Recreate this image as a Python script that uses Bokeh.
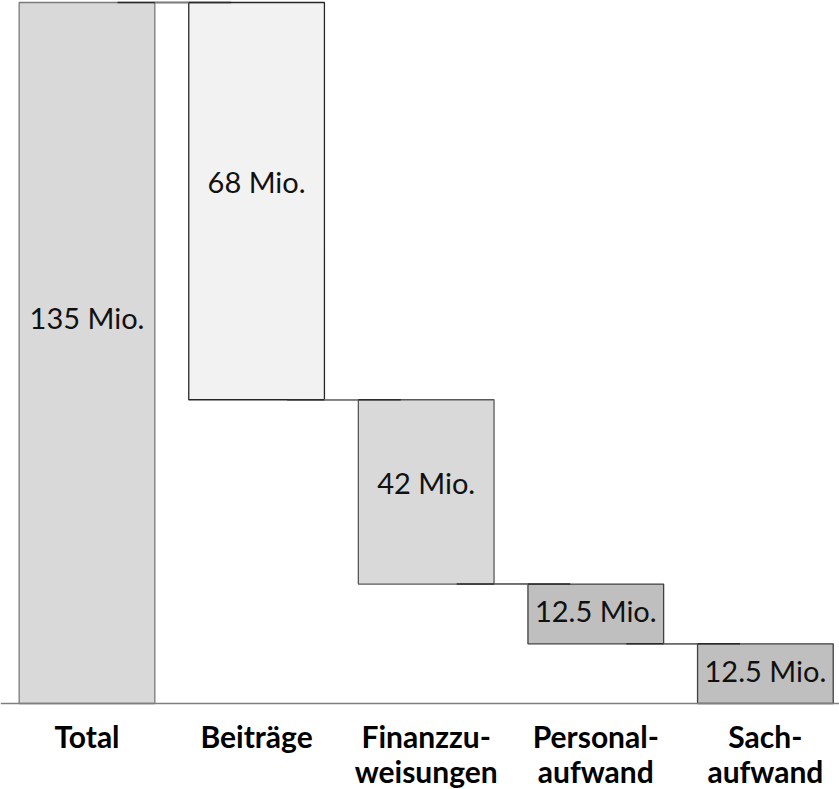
from bokeh.plotting import figure
from bokeh.models import Range1d, Span, ColumnDataSource
from bokeh.core.properties import value
from bokeh.embed import file_html
from bokeh.resources import INLINE

# ---- data ----
categories = ["Total", "Beiträge", "Finanzzu-\nweisungen", "Personal-\naufwand", "Sach-\naufwand"]
values = [135, 76.5, 35.5, 11.5, 11.5]          # drawn bar heights
value_labels = ["135 Mio.", "68 Mio.", "42 Mio.", "12.5 Mio.", "12.5 Mio."]
fill_colors = ["#d9d9d9", "#f2f2f2", "#d9d9d9", "#bfbfbf", "#bfbfbf"]
line_colors = ["#7a7a7a", "#262626", "#595959", "#404040", "#404040"]

# ---- waterfall geometry ----
n = len(categories)
xs = list(range(n))
tops, bottoms = [], []
level = values[0]
for i, v in enumerate(values):
    if i == 0:
        tops.append(v)
        bottoms.append(0)
    else:
        tops.append(level)
        bottoms.append(level - v)
        level = level - v

label_frac = 0.45
label_y = [t - label_frac * (t - b) for t, b in zip(tops, bottoms)]

W, H = 839, 789
axis_px = 703          # axis position (px from top)
top_px = 2             # where the total's top sits
s = (axis_px - top_px) / values[0]
y_top = axis_px / s
y_bot = -(H - axis_px) / s

bw = 0.8
x_start, x_end = -0.510, 4.437

p = figure(width=W, height=H, output_backend="svg", toolbar_location=None,
           x_range=Range1d(x_start, x_end), y_range=Range1d(y_bot, y_top),
           x_axis_type=None, y_axis_type=None, min_border=0,
           outline_line_color=None, background_fill_color="white",
           border_fill_color="white")

src = ColumnDataSource(dict(x=xs, top=tops, bottom=bottoms, fill=fill_colors,
                            line=line_colors, ly=label_y, lab=value_labels))

# connectors (dark marks inside bars + gray in gaps)
cx0, cx1, cy, gx0, gx1 = [], [], [], [], []
for i in range(n - 1):
    lvl = tops[i + 1]
    cx0.append(xs[i] + bw / 2 - 0.22)
    cx1.append(xs[i + 1] - bw / 2 + 0.25)
    gx0.append(xs[i] + bw / 2)
    gx1.append(xs[i + 1] - bw / 2)
    cy.append(lvl)

p.vbar(x="x", width=bw, top="top", bottom="bottom", fill_color="fill",
       line_color="line", line_width=1.3, source=src)

p.segment(x0=cx0, y0=cy, x1=cx1, y1=cy, line_color="#2b2b2b", line_width=1.5)
p.segment(x0=gx0, y0=cy, x1=gx1, y1=cy, line_color="#7f7f7f", line_width=1.3)

p.add_layout(Span(location=0, dimension="width", line_color="#7f7f7f", line_width=1.5))

p.text(x="x", y="ly", text="lab", source=src, text_font=value("Lato"),
       text_font_size="29px", text_align="center", text_baseline="middle",
       text_color="#111111")

line1 = [c.split("\n")[0] for c in categories]
line2 = [c.split("\n")[1] if "\n" in c else "" for c in categories]
y1 = -(735 - axis_px) / s
y2 = -(770 - axis_px) / s
p.text(x=xs, y=[y1] * n, text=line1, text_font=value("Lato"), text_font_style="bold",
       text_font_size="30px", text_align="center", text_baseline="alphabetic",
       text_color="#000000")
p.text(x=xs, y=[y2] * n, text=line2, text_font=value("Lato"), text_font_style="bold",
       text_font_size="30px", text_align="center", text_baseline="alphabetic",
       text_color="#000000")

open("out.html", "w").write(file_html(p, INLINE))
